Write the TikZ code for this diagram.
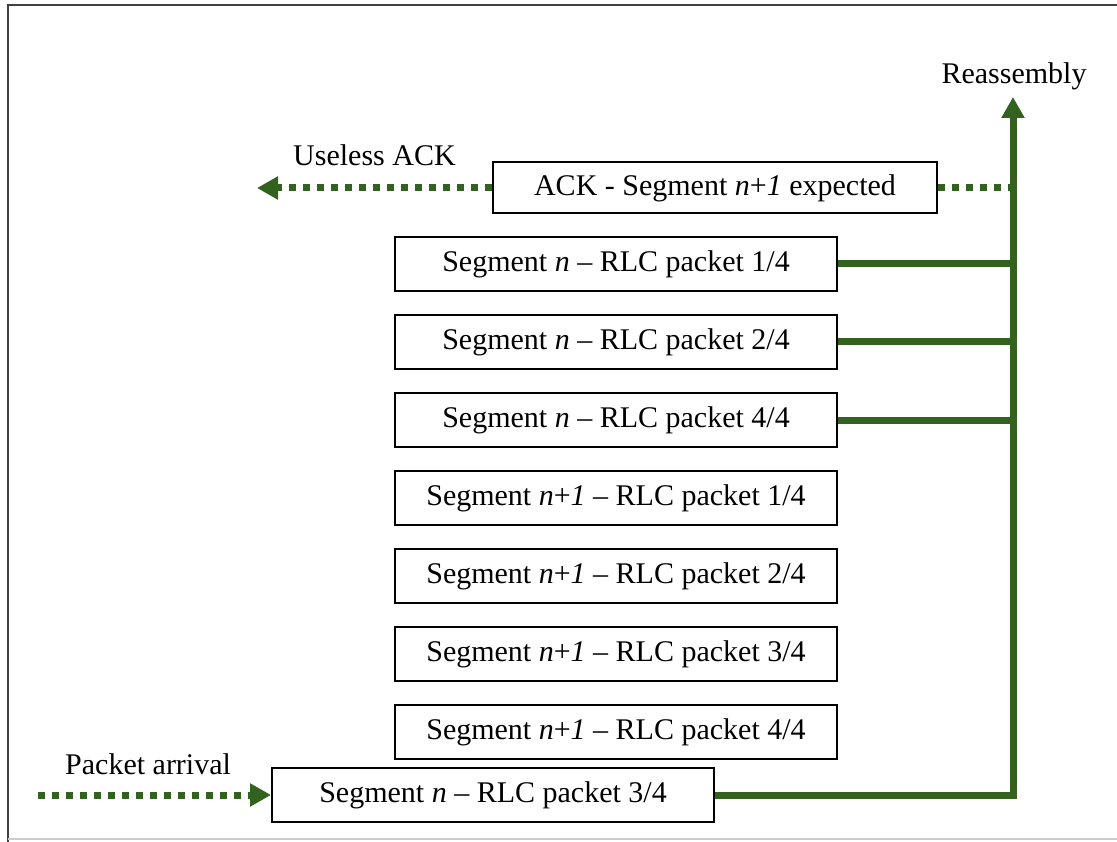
\documentclass[tikz,border=0pt]{standalone}
\usepackage{fontspec}
\setmainfont{Liberation Serif}
\usetikzlibrary{arrows.meta,positioning}
\definecolor{verde}{RGB}{50,98,30}
\tikzset{
  seg/.style={draw,line width=2pt,minimum width=442pt,minimum height=54pt,
              inner sep=0pt,font=\fontsize{30}{36}\selectfont},
  etiq/.style={font=\fontsize{30}{36}\selectfont,inner sep=0pt},
  rama/.style={verde,line width=7pt},
  punteado/.style={verde,line width=7pt,dash pattern=on 7pt off 7pt},
  flecha/.style={-{Triangle[length=21pt,width=22pt]}},
}
\begin{document}
\begin{tikzpicture}[x=1pt,y=-1pt,node distance=22pt]
    \useasboundingbox (0,0) rectangle (1117,842);
    \draw[line width=2pt,black!75] (8,842) -- (8,5) -- (1117,5);
    \draw[line width=1.5pt,black!20] (8,839) -- (1117,839);
    % cola de paquetes
    \node[seg] (s1) at (616,264) {Segment \textit{n} -- RLC packet 1/4};
    \node[seg,below=of s1] (s2) {Segment \textit{n} -- RLC packet 2/4};
    \node[seg,below=of s2] (s4) {Segment \textit{n} -- RLC packet 4/4};
    \node[seg,below=of s4] (t1) {Segment \textit{n}+\textit{1} -- RLC packet 1/4};
    \node[seg,below=of t1] (t2) {Segment \textit{n}+\textit{1} -- RLC packet 2/4};
    \node[seg,below=of t2] (t3) {Segment \textit{n}+\textit{1} -- RLC packet 3/4};
    \node[seg,below=of t3] (t4) {Segment \textit{n}+\textit{1} -- RLC packet 4/4};
    \node[seg] (s3) at (493,795) {Segment \textit{n} -- RLC packet 3/4};
    \node[seg,minimum width=444pt,minimum height=51pt] (ack) at (715,188)
      {ACK - Segment \textit{n}+\textit{1} expected};
    % reensamblado
    \coordinate (tope) at (1013,97);
    \draw[rama,flecha] (s3.east) -| (tope);
    \node[etiq,anchor=base] (reas) at (1014,84) {Reassembly};
    \foreach \b in {s1,s2,s4} \draw[rama] (\b.east) -- (\b.east -| tope);
    \draw[punteado] (ack.east) -- (ack.east -| tope);
    % ACK inutil y llegada
    \coordinate (inutil) at (257,188);
    \draw[punteado,flecha] (ack.west) -- (inutil);
    \node[etiq,anchor=base west] (useless) at (293,166) {Useless ACK};
    \coordinate (origen) at (38,795);
    \draw[punteado,flecha] (origen) -- (s3.west);
    \node[etiq,anchor=base west] (llegada) at (65,774) {Packet arrival};
\end{tikzpicture}
\end{document}
